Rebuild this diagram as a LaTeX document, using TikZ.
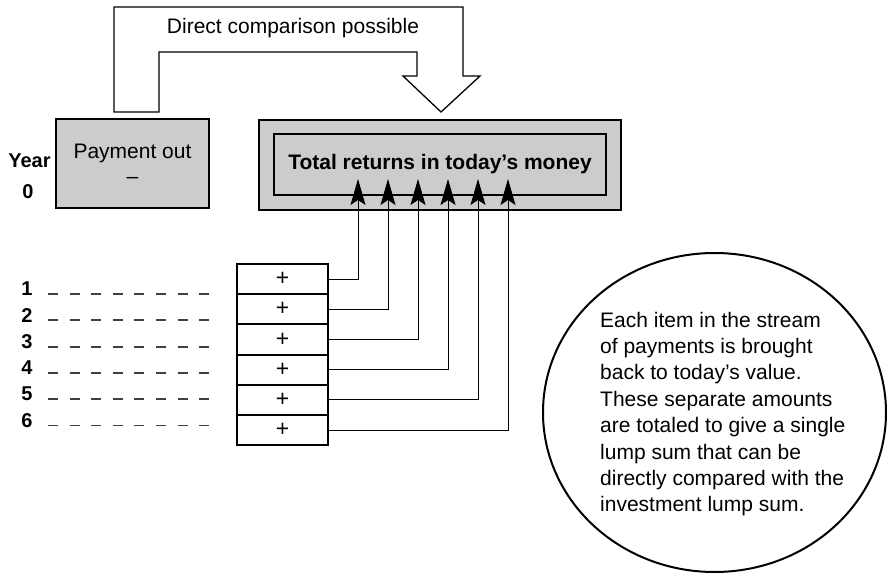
\documentclass[tikz,border=0pt]{standalone}
\usepackage{fontspec}
\setmainfont{Liberation Sans}
\usetikzlibrary{arrows.meta,shapes.geometric}
\tikzset{
  graybox/.style={rectangle, draw=black, line width=2.4pt, fill=black!20,
    align=center, inner sep=0pt},
  rowbox/.style={rectangle, draw=black, line width=2pt, fill=white,
    minimum width=91pt, minimum height=30.2pt, inner sep=0pt,
    font=\fontsize{23}{24}\selectfont},
  yrlabel/.style={font=\fontsize{20}{24}\selectfont\bfseries, inner sep=0pt},
  lead/.style={draw=black!75, line width=1.8pt, dash pattern=on 10pt off 11.6pt},
  ret/.style={-{Stealth[length=26pt,width=15pt,inset=5pt]}, draw=black, line width=0.9pt},
  bigarrow/.style={draw=black, line width=1.3pt, fill=white, line join=miter},
  note/.style={ellipse, draw=black, line width=2pt, inner sep=0pt,
    minimum width=343pt, minimum height=319pt},
  notetext/.style={align=left, inner sep=0pt, font=\fontsize{21}{26.4}\selectfont},
}
\begin{document}
\begin{tikzpicture}[x=1pt, y=-1pt, font=\fontsize{21}{25}\selectfont]
  \useasboundingbox (0,0) rectangle (887,575);
  % hollow arrow from year 0 to the total
  \draw[bigarrow] (114,112) -- (114,7) -- (463,7) -- (463,76) -- (480,76)
    -- (441,112) -- (403,76) -- (417,76) -- (417,52) -- (159,52) -- (159,112) -- cycle;
  \node (cmp) at (293,28) {Direct comparison possible};
  % year 0
  \node[graybox, minimum width=153pt, minimum height=89pt] (pay) at (132.5,163.5) {Payment out\\–};
  \node[yrlabel] (year) at (29.5,161) {Year};
  \node[yrlabel] (y0) at (28,192) {0};
  \node[graybox, minimum width=362pt, minimum height=90pt] (tot) at (440,165) {};
  \node[graybox, line width=2pt, minimum width=332pt, minimum height=61pt,
    font=\fontsize{21}{25}\selectfont\bfseries] (totin) at (440,164.5) {Total returns in today’s money};
  % years 1--6
  \foreach \i in {1,...,6} {
    \node[rowbox] (r\i) at (282.5,{279.1+30.2*(\i-1)}) {+};
    \coordinate (t\i) at ({358+30*(\i-1)},179);
    \draw[ret] (r\i.east) -| (t\i);
    \node[yrlabel] (n\i) at (27,{289+26.3*(\i-1)}) {\i};
    \coordinate (d\i) at (48,{294+26.3*(\i-1)});
    \coordinate (e\i) at (209,{294+26.3*(\i-1)});
    \draw[lead] (d\i) -- (e\i);
  }
  % explanation
  \node[note] (bubble) at (714.5,412.5) {};
  \node[notetext, anchor=west] (txt) at (600,414) {Each item in the stream\\of payments is brought\\back to today’s value.\\These separate amounts\\are totaled to give a single\\lump sum that can be\\directly compared with the\\investment lump sum.};
\end{tikzpicture}
\end{document}
